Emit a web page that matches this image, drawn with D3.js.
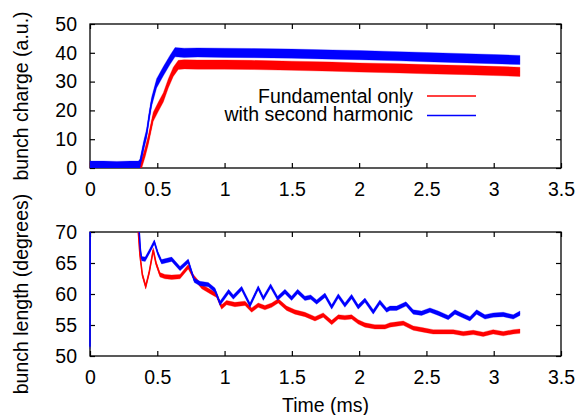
<!DOCTYPE html>
<html>
<head>
<meta charset="utf-8">
<script src="https://cdn.jsdelivr.net/npm/d3@7"></script>
<style>
body { margin: 0; background: #fff; }
text { font-family: "Liberation Sans", Arial, sans-serif; }
</style>
</head>
<body>
<div id="chart"></div>
<script>
// tick labels
var timeTicks = [0, 0.5, 1, 1.5, 2, 2.5, 3, 3.5];
var chargeTicks = [0, 10, 20, 30, 40, 50];
var lengthTicks = [50, 55, 60, 65, 70];

var seriesNames = ["Fundamental only", "with second harmonic"];
var seriesColors = ["#ff0000", "#0000ff"];

// bunch charge, fundamental only
var fundChargeTime = [0, 0.1, 0.2, 0.3, 0.37, 0.384, 0.41, 0.433, 0.47, 0.508, 0.545, 0.582, 0.619, 0.656, 0.7, 0.8, 1.0, 1.2, 1.5, 1.8, 2.0, 2.3, 2.5, 2.8, 3.0, 3.195];
var fundCharge = [0.5, 0.5, 0.4, 0.5, 0.5, 1.5, 5.5, 9.7, 17.8, 21.3, 24.5, 29.4, 33.4, 35.8, 36.0, 35.9, 35.9, 35.8, 35.5, 35.2, 34.9, 34.6, 34.3, 34.0, 33.7, 33.4];

// bunch charge, with second harmonic
var secondChargeTime = [0, 0.1, 0.2, 0.3, 0.36, 0.371, 0.40, 0.421, 0.44, 0.458, 0.495, 0.545, 0.594, 0.632, 0.7, 0.8, 1.0, 1.2, 1.5, 1.8, 2.0, 2.3, 2.5, 2.8, 3.0, 3.195];
var secondCharge = [0.8, 0.8, 0.7, 0.8, 0.8, 1.5, 8, 12, 18, 23, 29.4, 33.6, 37.5, 40.2, 40.0, 40.1, 40.0, 39.9, 39.7, 39.4, 39.2, 38.8, 38.5, 38.1, 37.8, 37.5];

// bunch length, fundamental only (values above 70 are off the chart)
var fundLengthTime = [0.355, 0.359, 0.371, 0.389, 0.414, 0.44, 0.47, 0.49, 0.52, 0.557, 0.607, 0.669, 0.73, 0.768, 0.83, 0.892, 0.941, 0.978, 1.015, 1.077, 1.152, 1.201, 1.25, 1.30, 1.35, 1.399, 1.461, 1.523, 1.597, 1.672, 1.733, 1.796, 1.845, 1.894, 1.944, 1.993, 2.043, 2.117, 2.192, 2.229, 2.328, 2.402, 2.477, 2.55, 2.625, 2.70, 2.774, 2.848, 2.922, 2.996, 3.071, 3.145, 3.195];
var fundLength = [80, 70, 66.3, 63.1, 61.2, 63.5, 67.1, 65, 63.1, 62.8, 62.7, 62.8, 64.4, 62.8, 61.2, 60.4, 59.8, 57.9, 58.6, 58.3, 58.5, 57.4, 58.2, 57.8, 58.2, 58.9, 57.7, 57.1, 56.7, 56.0, 56.6, 55.4, 56.3, 56.2, 56.3, 55.5, 55.0, 54.7, 54.7, 55.0, 55.3, 54.5, 54.2, 53.9, 53.9, 53.9, 53.6, 53.8, 53.5, 53.9, 53.6, 53.9, 54.0];

// bunch length, with second harmonic
var secondLengthTime = [0, 0.002, 0.36, 0.366, 0.375, 0.384, 0.41, 0.445, 0.478, 0.505, 0.532, 0.607, 0.669, 0.73, 0.775, 0.817, 0.879, 0.929, 0.966, 1.03, 1.065, 1.127, 1.189, 1.25, 1.288, 1.342, 1.394, 1.449, 1.498, 1.543, 1.597, 1.64, 1.684, 1.746, 1.796, 1.845, 1.894, 1.944, 1.993, 2.043, 2.105, 2.154, 2.204, 2.229, 2.279, 2.348, 2.402, 2.464, 2.526, 2.588, 2.662, 2.712, 2.761, 2.823, 2.873, 2.935, 2.996, 3.071, 3.145, 3.195];
var secondLength = [51.5, 80, 80, 70, 67, 65.7, 65.6, 67, 68.4, 66.5, 65.2, 65.6, 64.1, 65.3, 62.2, 61.7, 61.5, 60.6, 58.5, 60.4, 59.5, 60.9, 58.2, 61.0, 59.3, 61.3, 59.3, 60.4, 59.3, 60.4, 59.3, 59.5, 58.7, 59.8, 57.9, 59.7, 58.2, 59.6, 57.9, 59.0, 57.1, 58.7, 57.4, 57.7, 57.7, 58.4, 57.1, 56.9, 57.4, 56.9, 56.2, 57.1, 56.6, 56.0, 57.1, 56.3, 56.6, 56.7, 56.3, 56.9];

// half width of the noise band around each trace
var chargeSpread = 1.6;
var lengthSpread = 0.35;

var width = 579, height = 415;
var plotLeft = 90, plotRight = 561;
var fontSize = "19.5px";

var svg = d3.select("#chart").append("svg")
	.attr("width", width)
	.attr("height", height);

var xScale = d3.scaleLinear().domain([0, 3.5]).range([plotLeft, plotRight]);

function zip(t, v) {
	var out = [];
	for (var i = 0; i < t.length; i++) out.push({t: t[i], v: v[i]});
	return out;
}

function drawPanel(id, top, bottom, domain, ticks, series, spread, label) {
	var yScale = d3.scaleLinear().domain(domain).range([bottom, top]);

	// frame first, the traces go on top of it like in gnuplot
	svg.append("rect")
		.attr("x", plotLeft).attr("y", top)
		.attr("width", plotRight - plotLeft).attr("height", bottom - top)
		.attr("fill", "none")
		.attr("stroke", "#000")
		.attr("stroke-width", 1.3);

	// axes: ticks inward, mirrored on top and right
	var fmt = d3.format("");
	var xb = svg.append("g").attr("transform", "translate(0," + bottom + ")")
		.call(d3.axisBottom(xScale).tickValues(timeTicks).tickFormat(fmt).tickSizeInner(-5).tickSizeOuter(0).tickPadding(14));
	var xt = svg.append("g").attr("transform", "translate(0," + top + ")")
		.call(d3.axisTop(xScale).tickValues(timeTicks).tickFormat("").tickSizeInner(-5).tickSizeOuter(0));
	var yl = svg.append("g").attr("transform", "translate(" + plotLeft + ",0)")
		.call(d3.axisLeft(yScale).tickValues(ticks).tickFormat(fmt).tickSizeInner(-5).tickSizeOuter(0).tickPadding(13));
	var yr = svg.append("g").attr("transform", "translate(" + plotRight + ",0)")
		.call(d3.axisRight(yScale).tickValues(ticks).tickFormat("").tickSizeInner(-5).tickSizeOuter(0));

	[xb, xt, yl, yr].forEach(function(a) {
		a.select(".domain").remove();
		a.selectAll("line").attr("stroke", "#000").attr("stroke-width", 1.2);
		a.selectAll("text").attr("fill", "#000")
			.style("font-size", fontSize)
			.style("font-family", "'Liberation Sans', Arial, sans-serif");
	});

	svg.append("clipPath").attr("id", id)
		.append("rect")
		.attr("x", plotLeft - 1).attr("y", top)
		.attr("width", plotRight - plotLeft + 1).attr("height", bottom - top);

	var band = d3.area()
		.x(function(d) { return xScale(d.t); })
		.y0(function(d) { return yScale(d.v - spread); })
		.y1(function(d) { return yScale(d.v + spread); });
	var line = d3.line()
		.x(function(d) { return xScale(d.t); })
		.y(function(d) { return yScale(d.v); });

	var g = svg.append("g").attr("clip-path", "url(#" + id + ")");
	series.forEach(function(s, i) {
		g.append("path")
			.datum(s)
			.attr("d", band)
			.attr("fill", seriesColors[i])
			.attr("stroke", seriesColors[i])
			.attr("stroke-opacity", 0.3)
			.attr("stroke-width", 1);
		g.append("path")
			.datum(s)
			.attr("d", line)
			.attr("fill", "none")
			.attr("stroke", seriesColors[i])
			.attr("stroke-width", 1.5);
	});

	svg.append("text")
		.attr("transform", "translate(28," + (top + bottom) / 2 + ") rotate(-90)")
		.attr("text-anchor", "middle")
		.style("font-size", fontSize)
		.text(label);
}

drawPanel("clipTop", 24, 168, [0, 50], chargeTicks,
	[zip(fundChargeTime, fundCharge), zip(secondChargeTime, secondCharge)],
	chargeSpread, "bunch charge (a.u.)");

drawPanel("clipBottom", 232, 356, [50, 70], lengthTicks,
	[zip(fundLengthTime, fundLength), zip(secondLengthTime, secondLength)],
	lengthSpread, "bunch length (degrees)");

// x axis title
svg.append("text")
	.attr("x", (plotLeft + plotRight) / 2)
	.attr("y", 411.5)
	.attr("text-anchor", "middle")
	.style("font-size", fontSize)
	.text("Time (ms)");

// legend
for (var i = 0; i < 2; i++) {
	svg.append("text")
		.attr("x", 413)
		.attr("y", 102.5 + 18 * i)
		.attr("text-anchor", "end")
		.style("font-size", fontSize)
		.text(seriesNames[i]);
	svg.append("line")
		.attr("x1", 427).attr("x2", 476)
		.attr("y1", 96 + 19.5 * i).attr("y2", 96 + 19.5 * i)
		.attr("stroke", seriesColors[i])
		.attr("stroke-width", 1.6);
}
</script>
</body>
</html>
